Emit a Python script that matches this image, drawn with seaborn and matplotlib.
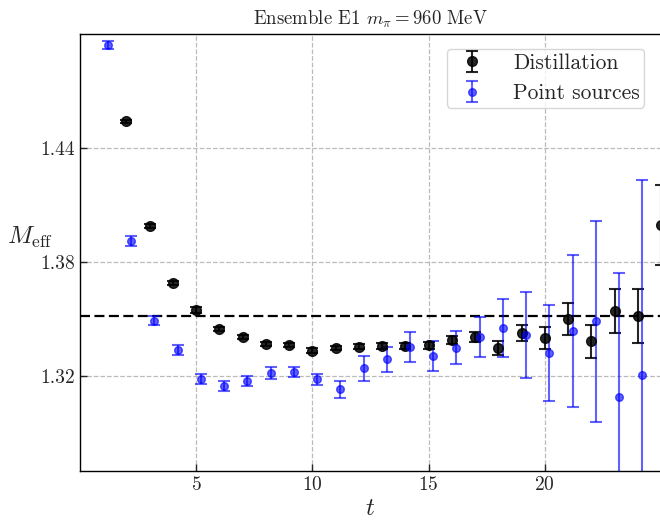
import numpy as np
import matplotlib
matplotlib.use("Agg")
import matplotlib.pyplot as plt
import seaborn as sns

# Distillation
t_dist = [2, 3, 4, 5, 6, 7, 8, 9, 10, 11, 12, 13, 14, 15, 16, 17, 18, 19, 20, 21, 22, 23, 24, 25]
m_dist = [1.4542, 1.3989, 1.3690, 1.3547, 1.3447, 1.3405, 1.3368, 1.3363, 1.3334, 1.3348, 1.3354, 1.3358,
          1.3358, 1.3361, 1.3390, 1.3405, 1.3347, 1.3426, 1.3400, 1.3500, 1.3382, 1.3542, 1.3516, 1.3995]
e_dist = [0.0008, 0.0010, 0.0012, 0.0015, 0.0012, 0.0012, 0.0012, 0.0012, 0.0012, 0.0012, 0.0014, 0.0018,
          0.0018, 0.0018, 0.0022, 0.0026, 0.0035, 0.0043, 0.0058, 0.0084, 0.0088, 0.0114, 0.0140, 0.0210]

# Point sources (plotted with a +0.2 offset in t)
t_pt = [1, 2, 3, 4, 5, 6, 7, 8, 9, 10, 11, 12, 13, 14, 15, 16, 17, 18, 19, 20, 21, 22, 23, 24]
m_pt = [1.4942, 1.3910, 1.3490, 1.3337, 1.3184, 1.3147, 1.3174, 1.3216, 1.3223, 1.3183, 1.3130, 1.3241,
        1.3288, 1.3354, 1.3305, 1.3349, 1.3407, 1.3453, 1.3417, 1.3320, 1.3438, 1.3487, 1.3091, 1.3205]
e_pt = [0.0021, 0.0026, 0.0024, 0.0026, 0.0026, 0.0026, 0.0026, 0.0030, 0.0026, 0.0030, 0.0045, 0.0065,
        0.0067, 0.0079, 0.0079, 0.0088, 0.0105, 0.0153, 0.0226, 0.0254, 0.0399, 0.0530, 0.0650, 0.1026]

fit_value = 1.3516

sns.set_style("white")
plt.rcParams['font.family'] = 'serif'
plt.rcParams['font.serif'] = ['cmr10', 'DejaVu Serif']
plt.rcParams['mathtext.fontset'] = 'cm'
plt.rcParams['axes.unicode_minus'] = False
plt.rcParams['axes.formatter.use_mathtext'] = True

fig = plt.figure(figsize=(6.6, 5.21), dpi=100)
ax = fig.add_axes([0.1212, 0.0960, 0.8803, 0.8387])

ax.errorbar(np.array(t_dist), m_dist, yerr=e_dist, fmt='o', color='black', alpha=0.85,
            markersize=7, capsize=4, elinewidth=1.5, capthick=1.5, label='Distillation', zorder=3)
ax.errorbar(np.array(t_pt) + 0.2, m_pt, yerr=e_pt, fmt='o', color='blue', alpha=0.62,
            markersize=5.5, capsize=4, elinewidth=1.5, capthick=1.5, label='Point sources', zorder=3)
ax.axhline(fit_value, color='black', linestyle='--', linewidth=1.6, dashes=(4.5, 2), zorder=2)

ax.set_xlim(0, 25)
ax.set_ylim(1.27, 1.50)
ax.set_xticks([5, 10, 15, 20])
ax.set_yticks([1.32, 1.38, 1.44])
ax.set_yticklabels(['1.32', '1.38', '1.44'])
ax.tick_params(direction='in', length=5, width=1, labelsize=14, left=True, bottom=True)
ax.grid(True, linestyle='--', color='#bbbbbb', linewidth=0.9)
for s in ax.spines.values():
    s.set_color('black')
    s.set_linewidth(1.0)

ax.set_xlabel('$t$', fontsize=18, labelpad=3)
ax.set_ylabel(r'$M_{\rm eff}$', fontsize=18, rotation=0, va='center', ha='center')
ax.yaxis.set_label_coords(-0.086, 0.535)
ax.set_title(r'Ensemble E1 $m_\pi = 960$ MeV', fontsize=13.5, pad=7)

leg = ax.legend(loc='upper right', fontsize=15.5, frameon=True, fancybox=True,
                bbox_to_anchor=(0.99, 0.99), handletextpad=0.9, borderpad=0.2)
leg.get_frame().set_edgecolor('#cccccc')

fig.savefig('out.png', dpi=100)
